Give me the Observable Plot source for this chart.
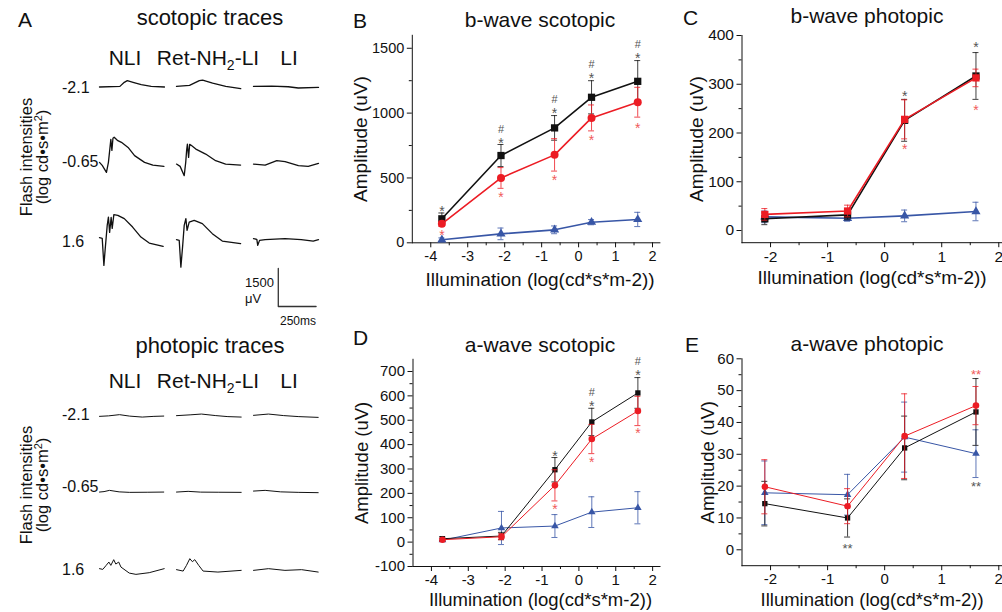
<!DOCTYPE html>
<html><head><meta charset="utf-8">
<script src="https://cdn.jsdelivr.net/npm/d3@7"></script>
<script src="https://cdn.jsdelivr.net/npm/@observablehq/plot@0.6"></script>
<style>
html,body{margin:0;padding:0;background:#fff;}
#page{position:relative;width:1002px;height:612px;overflow:hidden;background:#fff;font-family:"Liberation Sans",Arial,Helvetica,sans-serif;}
#page svg{position:absolute;left:0;top:0;}
</style></head><body><div id="page"></div>
<script>
// ---------------- Panel A : ERG traces, [time (ms), amplitude (µV)] ----------------
const traceCols = ["NLI", "Ret-NH2-LI", "LI"];
const traceRows = ["-2.1", "-0.65", "1.6"];

const scotNLI_21  = [[0,-25],[135,0],[164,160],[184,225],[222,160],[276,65],[342,0],[430,-25]];
const scotRet_21  = [[0,0],[86,40],[151,225],[173,250],[239,130],[326,0],[425,-90]];
const scotLI_21   = [[0,0],[120,10],[230,-15],[296,-65],[430,-40]];
const scotNLI_065 = [[0,0],[18,-120],[46,-395],[59,0],[66,395],[75,910],[82,470],[89,950],[97,990],[118,870],[145,790],[189,590],[232,265],[298,0],[353,-105],[426,-160]];
const scotRet_065 = [[0,-67],[24,-158],[51,-525],[61,0],[67,474],[72,723],[80,198],[87,711],[97,672],[128,525],[193,328],[259,67],[325,-67],[424,-107]];
const scotLI_065  = [[0,-67],[77,-107],[154,67],[209,28],[297,-130],[362,-158],[430,-40]];
const scotNLI_16  = [[0,28],[18,0],[29,-1067],[37,-474],[51,514],[59,841],[67,237],[77,830],[84,395],[95,936],[121,909],[164,778],[219,446],[274,51],[329,-186],[421,-316]];
const scotRet_16  = [[0,-51],[18,-79],[29,-1134],[41,-277],[51,514],[62,778],[70,316],[84,644],[117,711],[171,581],[237,186],[303,-107],[424,-209]];
const scotLI_16   = [[0,-12],[22,-40],[28,-276],[40,-79],[77,-51],[208,-12],[316,-51],[395,-107],[430,-51]];

const photNLI_21  = [[0,0],[60,20],[132,67],[200,10],[283,-28],[360,0],[425,12]];
const photRet_21  = [[0,28],[90,60],[165,91],[260,30],[340,-10],[428,-28]];
const photLI_21   = [[0,40],[99,91],[200,30],[300,-10],[428,-40]];
const photNLI_065 = [[0,12],[30,30],[66,79],[130,20],[200,0],[320,5],[425,12]];
const photRet_065 = [[0,12],[77,40],[160,10],[280,5],[428,0]];
const photLI_065  = [[0,51],[77,79],[180,20],[300,0],[428,-12]];
const photNLI_16  = [[0,-12],[22,-40],[44,118],[62,249],[75,118],[94,343],[108,170],[127,249],[142,51],[197,-186],[241,-237],[329,-170],[428,-12]];
const photRet_16  = [[0,-51],[44,-107],[66,118],[88,383],[105,264],[121,343],[147,118],[176,-107],[274,-146],[428,-79]];
const photLI_16   = [[0,-79],[99,-12],[208,-79],[318,-51],[428,-146]];

const scaleBarUV = 1500;          // µV
const scaleBarMs = 250;           // ms
const scaleBarCorner = [164, -2690]; // [ms, µV] in the LI / 1.6 cell

// ---------------- Panels B–E : amplitudes (µV), mean and SEM ----------------
const xScot = [-3.7, -2.1, -0.65, 0.35, 1.6];
const xPhot = [-2.1, -0.65, 0.35, 1.6];

const bScotNLI = [185, 673, 886, 1122, 1245];  const bScotNLIse = [45, 85, 95, 128, 160];
const bScotRet = [146, 500, 678, 963, 1084];   const bScotRetse = [20, 80, 125, 100, 115];
const bScotLI  = [23, 69, 100, 159, 180];      const bScotLIse  = [15, 45, 30, 20, 55];
// significance marks: value at which the mark sits, and its label ("#*" = # above *)
const bScotSigNLIy = [270, 794, 1025, 1297, 1448];
const bScotSigNLI  = ["*", "#*", "#*", "#*", "#*"];
const bScotSigRety = [87, 378, 506, 819, 912];
const bScotSigRet  = ["*", "*", "*", "*", "*"];

const bPhotNLI = [24, 32, 226, 317];  const bPhotNLIse = [12, 10, 43, 48];
const bPhotRet = [33, 40, 228, 313];  const bPhotRetse = [12, 12, 40, 18];
const bPhotLI  = [28, 25, 30, 39];    const bPhotLIse  = [12, 6, 12, 19];
const bPhotSigNLIy = [null, null, 282, 383];
const bPhotSigNLI  = [null, null, "*", "*"];
const bPhotSigRety = [null, null, 173, 254];
const bPhotSigRet  = [null, null, "*", "*"];

const aScotNLI = [14, 25, 297, 493, 612];  const aScotNLIse = [8, 15, 50, 56, 63];
const aScotRet = [10, 22, 233, 423, 538];  const aScotRetse = [6, 12, 64, 60, 60];
const aScotLI  = [8, 58, 66, 123, 141];    const aScotLIse  = [5, 68, 47, 63, 66];
const aScotSigNLIy = [null, null, 365, 570, 700];
const aScotSigNLI  = [null, null, "*", "#*", "#*"];
const aScotSigRety = [null, null, 150, 342, 461];
const aScotSigRet  = [null, null, "*", "*", "*"];

const aPhotNLI = [14.5, 10, 32, 43.3];   const aPhotNLIse = [7, 6, 10, 10.5];
const aPhotRet = [19.8, 13.7, 35.7, 45.3]; const aPhotRetse = [8.5, 5.5, 13.3, 6];
const aPhotLI  = [17.9, 17.3, 35.4, 30.2]; const aPhotLIse  = [10, 6.4, 11, 7.5];
const aPhotSigNLIy = [null, 1.4, null, 20.9];
const aPhotSigNLI  = [null, "**", null, "**"];
const aPhotSigRety = [null, null, null, 56];
const aPhotSigRet  = [null, null, null, "**"];

// ---------------- helpers ----------------
const FONT = '"Liberation Sans", Arial, Helvetica, sans-serif';
const C_BLACK = "#111111", C_RED = "#ec1c24", C_BLUE = "#3856a6";
const page = document.getElementById("page");
const W = 1020, H = 640;

function baseStyle(fs) {
  return {background: "transparent", overflow: "visible", maxWidth: "none",
          fontFamily: FONT, fontSize: fs + "px", color: "#111",
          position: "absolute", left: "0px", top: "0px"};
}

function traceTable(sets, bar) {
  const rows = sets.flatMap(([col, row, pts], k) =>
    pts.map(([t, v]) => ({col, row, id: "t" + k, t, v, c: "#111"})));
  if (bar) {
    const [t0, v0] = scaleBarCorner;
    [[t0, v0 + scaleBarUV], [t0, v0], [t0 + scaleBarMs, v0]].forEach(([t, v]) =>
      rows.push({col: "LI", row: "1.6", id: "bar", t, v, c: "#333"}));
  }
  return rows;
}

function tracePlot(table, top, width) {
  const band = 76.5;
  return Plot.plot({
    width: W, height: H,
    marginLeft: 98, marginRight: W - 318,
    marginTop: top, marginBottom: H - (top + 3 * band),
    style: baseStyle(14),
    x: {domain: [0, 430], axis: null},
    y: {domain: [-1900, 1100], axis: null},
    fx: {domain: traceCols, paddingInner: 0.161, paddingOuter: 0, axis: null},
    fy: {domain: traceRows, paddingInner: 0, paddingOuter: 0, axis: null},
    facet: {data: table, x: "col", y: "row"},
    marks: [Plot.line(table, {x: "t", y: "v", z: "id", stroke: "c", strokeWidth: width, curve: "linear"})]
  });
}

function series(xs, ys, es) {
  return xs.map((x, i) => ({x, y: ys[i], lo: ys[i] - es[i], hi: ys[i] + es[i]}));
}
function sig(xs, ys, labels) {
  return xs.map((x, i) => ({x, y: ys[i], t: labels[i]})).filter(d => d.y != null);
}

function sigMarks(data, color, starSize) {
  // star glyph centred on the value; "#" drawn above it when flagged
  const stars = data.map(d => ({...d, s: d.t.replace("#", "")}));
  const hashes = data.filter(d => d.t.includes("#"));
  return [
    Plot.text(stars, {x: "x", y: "y", text: "s", fill: color, fontSize: starSize, lineAnchor: "bottom", dy: 0.58 * starSize}),
    Plot.text(hashes, {x: "x", y: "y", text: () => "#", fill: color, fontSize: 11, lineAnchor: "bottom", dy: 0.58 * starSize - 15})
  ];
}

function panel(o) {
  const [L, T, R, B] = o.frame;
  const marks = [];
  marks.push(Plot.ruleX(o.xMinor, {x: d => d, y1: () => o.yDomain[0], y2: () => o.yDomain[0], insetBottom: -3, stroke: "#111"}));
  marks.push(Plot.ruleY(o.yMinor, {y: d => d, x1: () => o.xDomain[0], x2: () => o.xDomain[0], insetLeft: -3, stroke: "#111"}));
  for (const s of o.series) {
    marks.push(Plot.ruleX(s.data, {x: "x", y1: "lo", y2: "hi", stroke: s.color, strokeWidth: 1, strokeOpacity: 0.8}));
    marks.push(Plot.ruleY(s.data, {x1: "x", x2: "x", y: "hi", insetLeft: -3, insetRight: -3, stroke: s.color, strokeOpacity: 0.8}));
    marks.push(Plot.ruleY(s.data, {x1: "x", x2: "x", y: "lo", insetLeft: -3, insetRight: -3, stroke: s.color, strokeOpacity: 0.8}));
    marks.push(Plot.line(s.data, {x: "x", y: "y", stroke: s.color, strokeWidth: o.lineWidth}));
    marks.push(Plot.dot(s.data, {x: "x", y: "y", symbol: s.symbol, r: s.r, fill: s.color, stroke: "none"}));
  }
  for (const a of o.sig) marks.push(...sigMarks(a.data, a.color, a.size));
  marks.push(Plot.text([o.xLabel], {text: d => d, frameAnchor: "bottom", lineAnchor: "bottom", textAnchor: "middle",
    dx: o.xLabelDx, dy: o.xLabelDy, fontSize: o.labelFont, fill: "#111"}));
  marks.push(Plot.text([o.yLabel], {text: d => d, frameAnchor: "left", lineAnchor: "bottom", textAnchor: "middle",
    rotate: -90, dx: o.yLabelDx, fontSize: o.labelFont, fill: "#111"}));
  return Plot.plot({
    width: W, height: H,
    marginLeft: L, marginRight: W - R, marginTop: T, marginBottom: H - B,
    style: baseStyle(o.tickFont),
    x: {domain: o.xDomain, ticks: o.xTicks, tickSize: 5, tickPadding: 3, tickFormat: d => String(d), line: true, label: null},
    y: {domain: o.yDomain, ticks: o.yTicks, tickSize: 5, tickPadding: 3, tickFormat: d => String(d), line: true, label: null},
    marks
  });
}

const xLab = "Illumination (log(cd*s*m-2))", yLab = "Amplitude (uV)";
const range = (a, b, s) => d3.range(a, b + s / 2, s);
const GREY = "#555", PINK = "#f05a5a";

// ---------------- Panel A ----------------
const scotTable = traceTable([
  ["NLI", "-2.1", scotNLI_21], ["Ret-NH2-LI", "-2.1", scotRet_21], ["LI", "-2.1", scotLI_21],
  ["NLI", "-0.65", scotNLI_065], ["Ret-NH2-LI", "-0.65", scotRet_065], ["LI", "-0.65", scotLI_065],
  ["NLI", "1.6", scotNLI_16], ["Ret-NH2-LI", "1.6", scotRet_16], ["LI", "1.6", scotLI_16]
], true);
const photTable = traceTable([
  ["NLI", "-2.1", photNLI_21], ["Ret-NH2-LI", "-2.1", photRet_21], ["LI", "-2.1", photLI_21],
  ["NLI", "-0.65", photNLI_065], ["Ret-NH2-LI", "-0.65", photRet_065], ["LI", "-0.65", photLI_065],
  ["NLI", "1.6", photNLI_16], ["Ret-NH2-LI", "1.6", photRet_16], ["LI", "1.6", photLI_16]
], false);
page.appendChild(tracePlot(scotTable, 57, 1.3));
page.appendChild(tracePlot(photTable, 387, 1.0));

// ---------------- Panels B–E ----------------
page.appendChild(panel({
  frame: [411.8, 34.8, 659.4, 242.3], xDomain: [-4.5, 2.2], yDomain: [0, 1600],
  xTicks: range(-4, 2, 1), xMinor: range(-3.5, 1.5, 1), yTicks: range(0, 1500, 500), yMinor: [250, 750, 1250],
  tickFont: 14.5, labelFont: 19, lineWidth: 1.6,
  series: [
    {data: series(xScot, bScotLI, bScotLIse), color: C_BLUE, symbol: "triangle", r: 3.4},
    {data: series(xScot, bScotNLI, bScotNLIse), color: C_BLACK, symbol: "square", r: 4.1},
    {data: series(xScot, bScotRet, bScotRetse), color: C_RED, symbol: "circle", r: 4}
  ],
  sig: [
    {data: sig(xScot, bScotSigNLIy, bScotSigNLI), color: GREY, size: 14},
    {data: sig(xScot, bScotSigRety, bScotSigRet), color: PINK, size: 14}
  ],
  xLabel: xLab, xLabelDx: 4, xLabelDy: 43, yLabel: yLab, yLabelDx: -45
}));

page.appendChild(panel({
  frame: [741.5, 35, 1009.7, 242.2], xDomain: [-2.5, 2.2], yDomain: [-25, 400],
  xTicks: range(-2, 2, 1), xMinor: range(-1.5, 1.5, 1), yTicks: range(0, 400, 100), yMinor: [50, 150, 250, 350],
  tickFont: 15.5, labelFont: 19, lineWidth: 1.6,
  series: [
    {data: series(xPhot, bPhotLI, bPhotLIse), color: C_BLUE, symbol: "triangle", r: 3.4},
    {data: series(xPhot, bPhotNLI, bPhotNLIse), color: C_BLACK, symbol: "square", r: 4.1},
    {data: series(xPhot, bPhotRet, bPhotRetse), color: C_RED, symbol: "square", r: 4.1}
  ],
  sig: [
    {data: sig(xPhot, bPhotSigNLIy, bPhotSigNLI), color: GREY, size: 14},
    {data: sig(xPhot, bPhotSigRety, bPhotSigRet), color: PINK, size: 14}
  ],
  xLabel: xLab, xLabelDx: -4, xLabelDy: 41, yLabel: yLab, yLabelDx: -39
}));

page.appendChild(panel({
  frame: [412.5, 358.8, 659.5, 566], xDomain: [-4.5, 2.2], yDomain: [-100, 750],
  xTicks: range(-4, 2, 1), xMinor: range(-3.5, 1.5, 1), yTicks: range(-100, 700, 100), yMinor: range(-50, 650, 100),
  tickFont: 15, labelFont: 18.5, lineWidth: 1,
  series: [
    {data: series(xScot, aScotLI, aScotLIse), color: C_BLUE, symbol: "triangle", r: 2.8},
    {data: series(xScot, aScotNLI, aScotNLIse), color: C_BLACK, symbol: "square", r: 3},
    {data: series(xScot, aScotRet, aScotRetse), color: C_RED, symbol: "circle", r: 3.3}
  ],
  sig: [
    {data: sig(xScot, aScotSigNLIy, aScotSigNLI), color: GREY, size: 14},
    {data: sig(xScot, aScotSigRety, aScotSigRet), color: PINK, size: 14}
  ],
  xLabel: xLab, xLabelDx: 4, xLabelDy: 39, yLabel: yLab, yLabelDx: -45
}));

page.appendChild(panel({
  frame: [741.5, 358.3, 1009.7, 565.2], xDomain: [-2.5, 2.2], yDomain: [-5, 60],
  xTicks: range(-2, 2, 1), xMinor: range(-1.5, 1.5, 1), yTicks: range(0, 60, 10), yMinor: range(5, 55, 10),
  tickFont: 15, labelFont: 18.5, lineWidth: 1,
  series: [
    {data: series(xPhot, aPhotLI, aPhotLIse), color: C_BLUE, symbol: "triangle", r: 2.8},
    {data: series(xPhot, aPhotNLI, aPhotNLIse), color: C_BLACK, symbol: "square", r: 3},
    {data: series(xPhot, aPhotRet, aPhotRetse), color: C_RED, symbol: "circle", r: 3.3}
  ],
  sig: [
    {data: sig(xPhot, aPhotSigNLIy, aPhotSigNLI), color: GREY, size: 13},
    {data: sig(xPhot, aPhotSigRety, aPhotSigRet), color: PINK, size: 13}
  ],
  xLabel: xLab, xLabelDx: -4, xLabelDy: 40, yLabel: yLab, yLabelDx: -28
}));

// ---------------- Figure-level text ----------------
const ov = d3.create("svg").attr("width", 1002).attr("height", 612)
  .style("position", "absolute").style("left", "0px").style("top", "0px")
  .style("font-family", FONT).style("fill", "#111");
function txt(x, y, s, size, anchor = "start") {
  return ov.append("text").attr("x", x).attr("y", y).attr("font-size", size).attr("text-anchor", anchor).text(s);
}
function colHeads(y) {
  txt(125, y, "NLI", 21, "middle");
  const t = ov.append("text").attr("x", 208).attr("y", y).attr("font-size", 21).attr("text-anchor", "middle");
  t.append("tspan").text("Ret-NH");
  t.append("tspan").attr("dy", 5).attr("font-size", 14).text("2");
  t.append("tspan").attr("dy", -5).text("-LI");
  txt(289, y, "LI", 21, "middle");
}
function flashLabel(cy) {
  ov.append("text").attr("transform", `translate(32,${cy}) rotate(-90)`).attr("font-size", 16.5)
    .attr("text-anchor", "middle").text("Flash intensities");
  const t = ov.append("text").attr("transform", `translate(48,${cy}) rotate(-90)`).attr("font-size", 16.5)
    .attr("text-anchor", "middle");
  t.append("tspan").text("(log cd\u2022s\u2022m");
  t.append("tspan").attr("dy", -6).attr("font-size", 11).text("2");
  t.append("tspan").attr("dy", 6).text(")");
}
txt(18, 27, "A", 21);
txt(210, 25, "scotopic traces", 22, "middle");
colHeads(65);
traceRows.forEach((r, i) => txt(62, [93, 167, 247][i], r, 16));
flashLabel(157);
txt(245, 287, "1500", 13);
txt(245, 303, "\u03bcV", 13);
txt(280, 325, "250ms", 12);

txt(210, 353, "photopic traces", 22, "middle");
colHeads(388);
traceRows.forEach((r, i) => txt(62, [420, 492, 575][i], r, 16));
flashLabel(485);

txt(353, 28, "B", 21);
txt(540, 27, "b-wave scotopic", 21, "middle");
txt(683, 25, "C", 21);
txt(867, 23, "b-wave photopic", 21, "middle");
txt(353, 345, "D", 21);
txt(540, 352, "a-wave scotopic", 21, "middle");
txt(685, 352, "E", 21);
txt(867, 351, "a-wave photopic", 21, "middle");
page.appendChild(ov.node());
</script></body></html>
